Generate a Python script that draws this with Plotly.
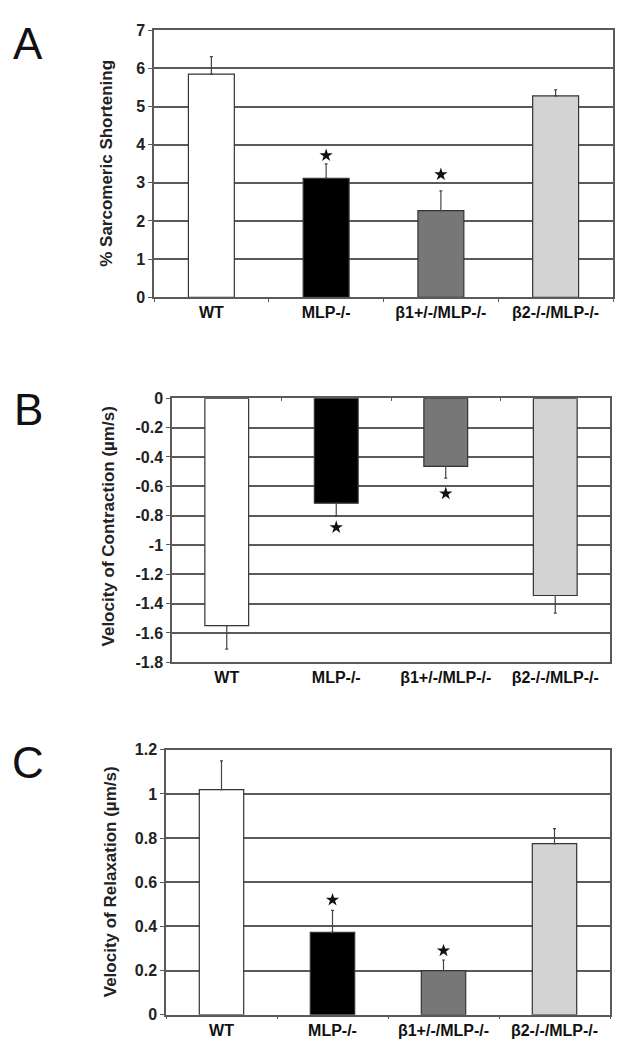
import plotly.graph_objects as go

# --- data ----------------------------------------------------------------------
groups = ["WT", "MLP-/-", "β1+/-/MLP-/-", "β2-/-/MLP-/-"]
bar_colors = ["#ffffff", "#000000", "#777777", "#d3d3d3"]

# A: % sarcomeric shortening
shortening = [5.85, 3.12, 2.27, 5.28]
shortening_err = [0.46, 0.38, 0.52, 0.16]
shortening_sig = [None, 3.72, 3.22, None]

# B: velocity of contraction (µm/s)
contraction = [-1.55, -0.715, -0.465, -1.345]
contraction_err = [0.16, 0.09, 0.08, 0.12]
contraction_sig = [None, -0.88, -0.65, None]
contraction_ticks = [0, -0.2, -0.4, -0.6, -0.8, -1, -1.2, -1.4, -1.6, -1.8]
contraction_ticktext = ["0", "-0.2", "-0.4", "-0.6", "-0.8", "-1", "-1.2",
                        "-1.4", "-1.6", "-1.8"]

# C: velocity of relaxation (µm/s)
relaxation = [1.02, 0.373, 0.2, 0.775]
relaxation_err = [0.13, 0.10, 0.048, 0.068]
relaxation_sig = [None, 0.52, 0.29, None]

FONT = "Liberation Sans, Arial, sans-serif"
GRID = "#5a5a5a"

fig = go.Figure()

panels = [
    # values, errors, sig, x axis, y axis, error goes down?
    (shortening, shortening_err, shortening_sig, "x", "y", False),
    (contraction, contraction_err, contraction_sig, "x2", "y2", True),
    (relaxation, relaxation_err, relaxation_sig, "x3", "y3", False),
]

for vals, errs, sig, xa, ya, down in panels:
    zeros = [0] * len(errs)
    fig.add_trace(go.Bar(
        x=groups, y=vals, xaxis=xa, yaxis=ya,
        marker=dict(color=bar_colors, line=dict(color="#333", width=1.2)),
        error_y=dict(
            type="data", symmetric=False,
            array=zeros if down else errs,
            arrayminus=errs if down else zeros,
            color="#444", thickness=1.2, width=1.5,
        ),
        width=0.4,
        hoverinfo="skip",
    ))
    fig.add_trace(go.Scatter(
        x=groups, y=sig, xaxis=xa, yaxis=ya, mode="markers",
        marker=dict(symbol="star", size=10, color="#111"),
        hoverinfo="skip",
    ))

# invisible trace so the top tick axis of panel B gets drawn
fig.add_trace(go.Scatter(x=groups, y=[None] * 4, xaxis="x4", yaxis="y2",
                         mode="markers", showlegend=False, hoverinfo="skip"))

W, H = 626, 1050


def dom_x(left, right):
    return [left / W, right / W]


def dom_y(top, bottom):
    return [1 - bottom / H, 1 - top / H]


xbase = dict(
    type="category", categoryarray=groups,
    showgrid=False, zeroline=False,
    showline=True, linecolor=GRID, linewidth=1.5, mirror=True,
    ticks="outside", tickson="boundaries", ticklen=3, tickcolor=GRID,
    tickfont=dict(family=FONT, size=16, color="#111", weight="bold"),
)
ybase = dict(
    showgrid=True, gridcolor=GRID, gridwidth=1.6, zeroline=False,
    showline=True, linecolor=GRID, linewidth=1.5, mirror=True,
    ticks="outside", ticklen=4, tickcolor=GRID,
    tickfont=dict(family=FONT, size=16, color="#222", weight="bold"),
)

fig.update_layout(
    width=W, height=H,
    margin=dict(l=0, r=0, t=0, b=0),
    paper_bgcolor="white", plot_bgcolor="white",
    showlegend=False, bargap=0.6,
    xaxis=dict(xbase, domain=dom_x(154, 613), anchor="y"),
    yaxis=dict(ybase, domain=dom_y(22.7, 294), range=[0, 7], dtick=1,
               anchor="x"),
    xaxis2=dict(xbase, domain=dom_x(172, 610), anchor="y2", ticks=""),
    yaxis2=dict(ybase, domain=dom_y(396.7, 665), range=[-1.8, 0],
                tickvals=contraction_ticks, ticktext=contraction_ticktext,
                anchor="x2"),
    xaxis3=dict(xbase, domain=dom_x(166, 610), anchor="y3"),
    yaxis3=dict(ybase, domain=dom_y(754, 1023.3), range=[0, 1.2], dtick=0.2,
                tickformat="~g", anchor="x3"),
    xaxis4=dict(type="category", categoryarray=groups, matches="x2",
                overlaying="x2", side="top", anchor="y2",
                showgrid=False, zeroline=False, showline=False,
                showticklabels=False, ticks="inside", tickson="boundaries",
                ticklen=3, tickcolor=GRID),
)

# y axis titles
titles = [
    ("% Sarcomeric Shortening", 107, (22.7 + 294) / 2),
    ("Velocity of Contraction (µm/s)", 108, 527),
    ("Velocity of Relaxation (µm/s)", 110, (754 + 1023.3) / 2),
]
for text, px, py in titles:
    fig.add_annotation(
        text=text, x=px / W, y=1 - py / H, xref="paper", yref="paper",
        textangle=-90, showarrow=False, xanchor="center", yanchor="middle",
        font=dict(family=FONT, size=17, color="#222", weight="bold"),
    )

# panel letters
for letter, py in [("A", 36), ("B", 408), ("C", 767)]:
    fig.add_annotation(
        text=letter, x=28 / W, y=1 - py / H, xref="paper", yref="paper",
        showarrow=False, xanchor="center", yanchor="middle",
        font=dict(family=FONT, size=44, color="#111"),
    )

fig.write_html(
    "out.html",
    config={"displayModeBar": False},
    post_script="document.body.style.margin='0';document.body.style.overflow='hidden';",
)
